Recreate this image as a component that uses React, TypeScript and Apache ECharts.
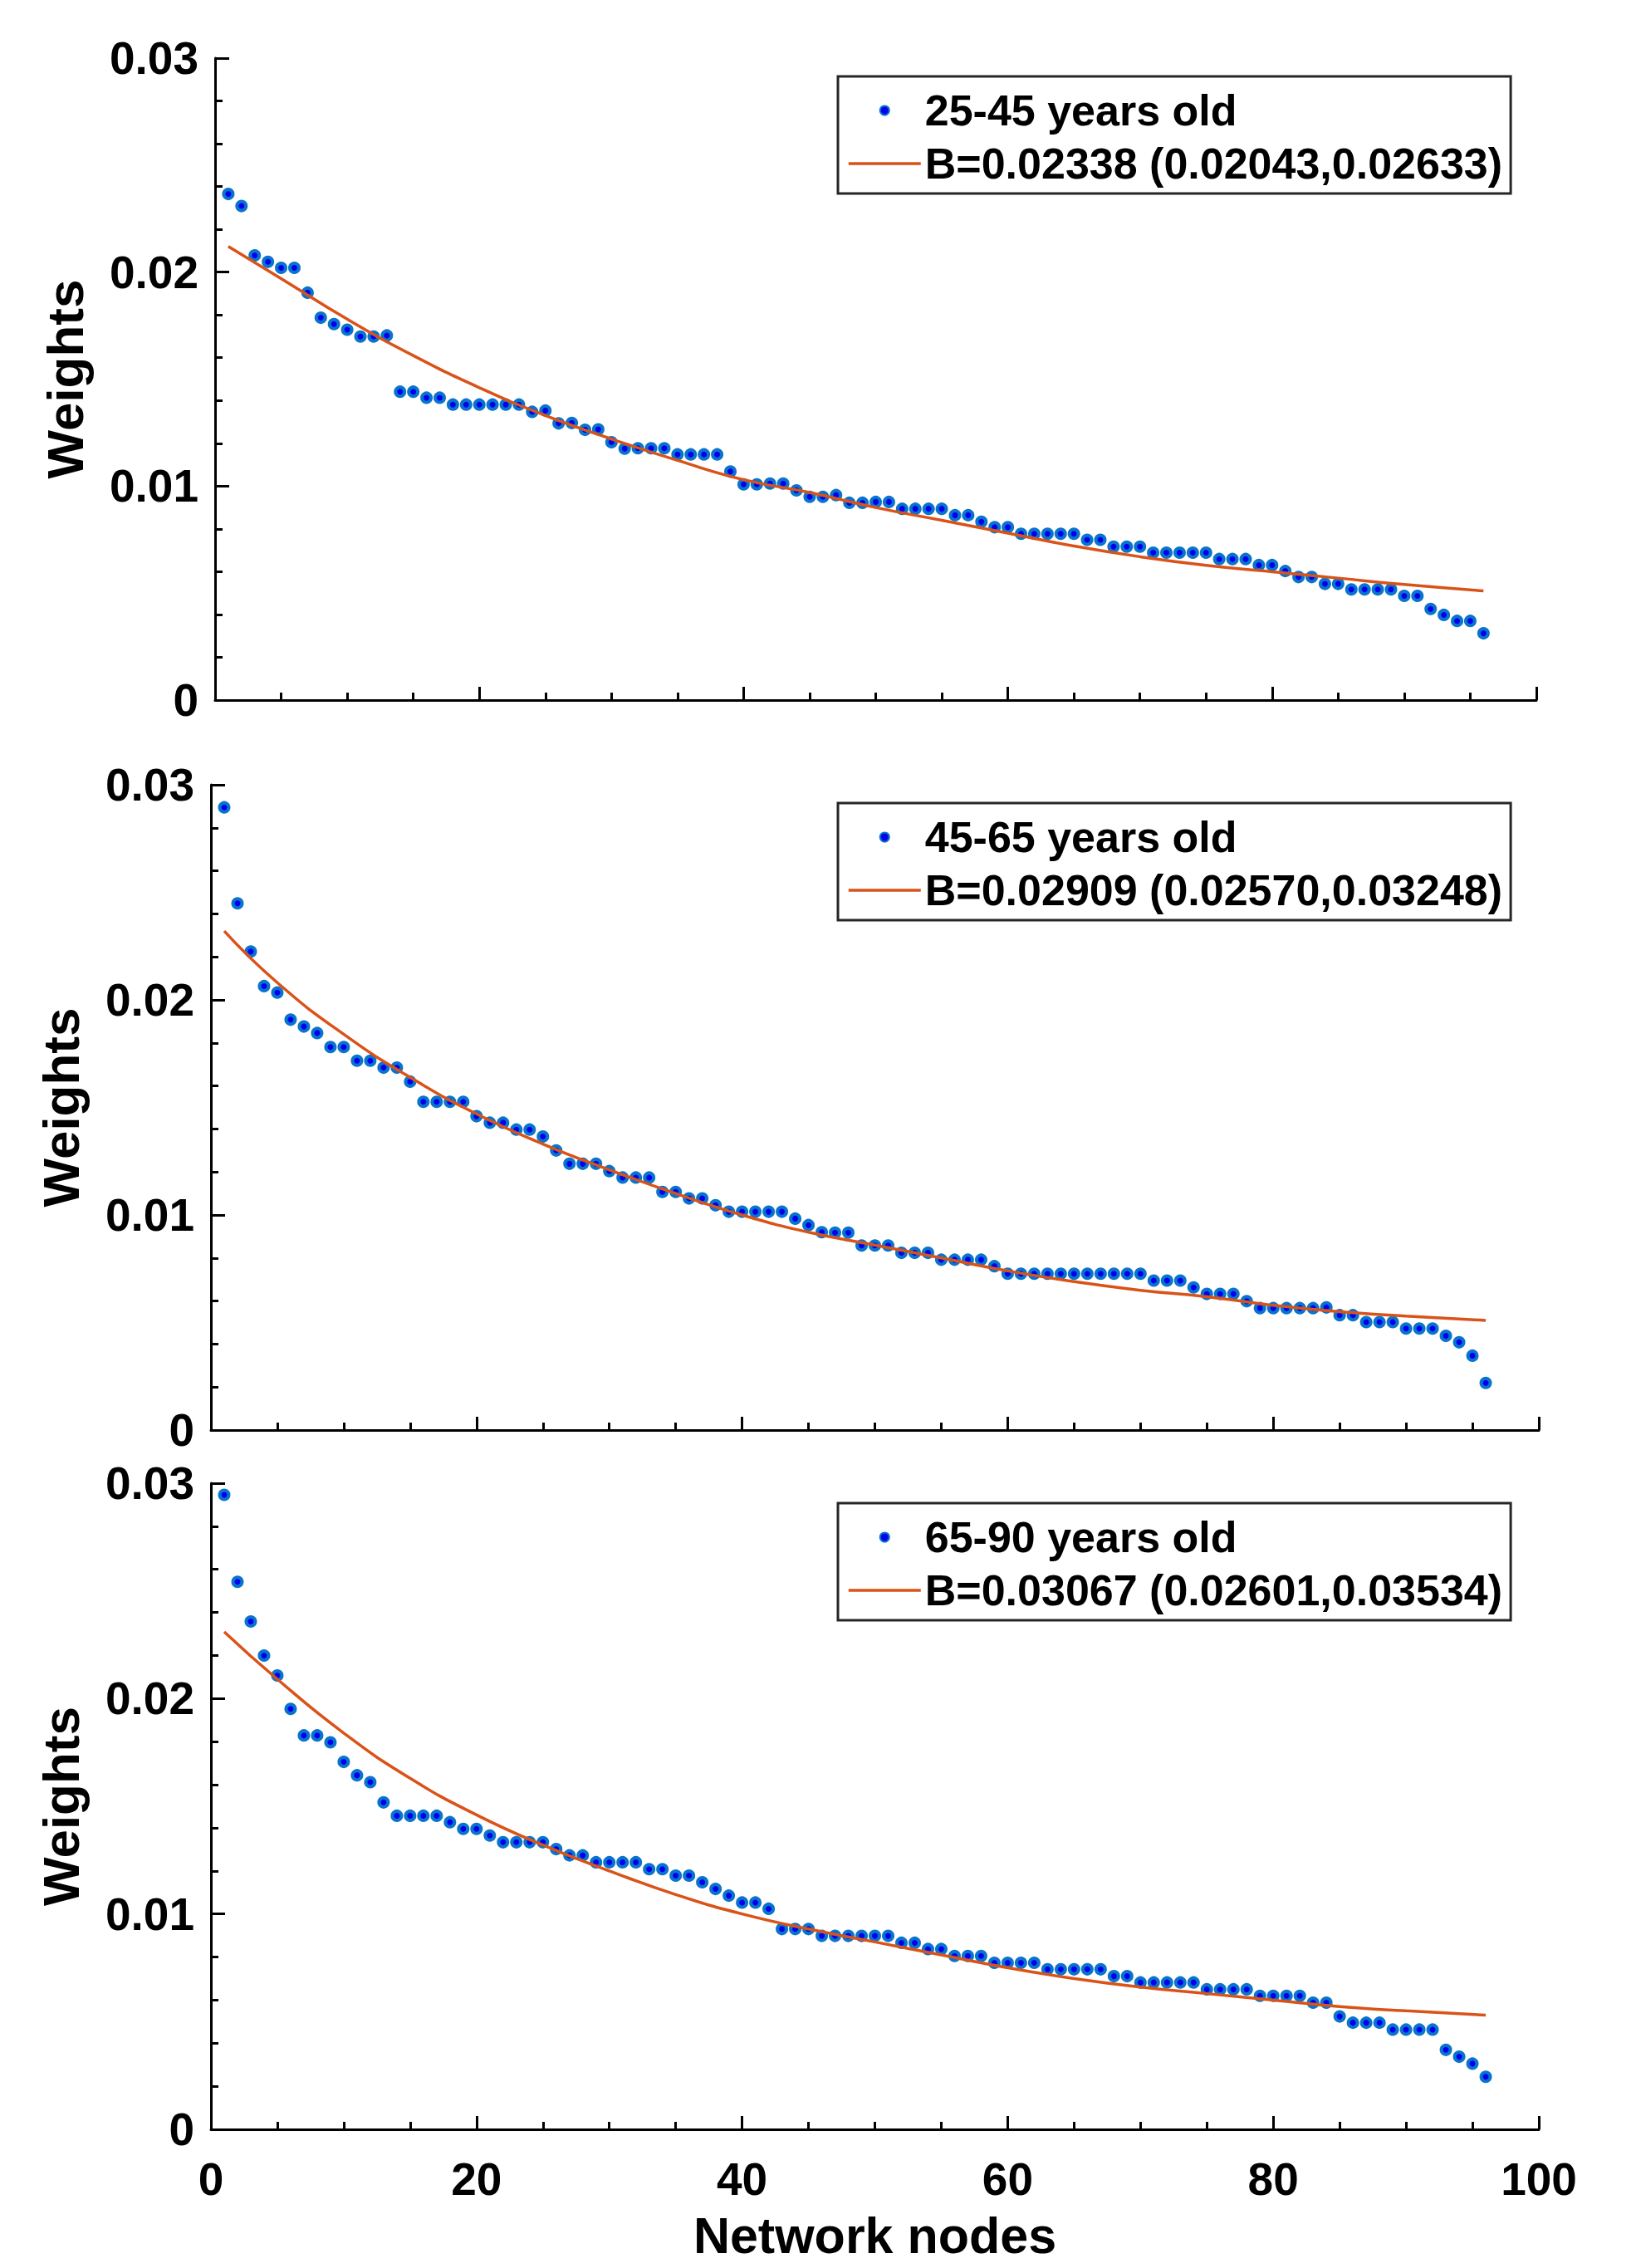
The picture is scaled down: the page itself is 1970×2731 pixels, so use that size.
import React, { useEffect, useRef } from 'react';
import * as echarts from 'echarts';

// Network node index (x categories 1..96)
const nodes: number[] = Array.from({ length: 96 }, (_, i) => i + 1);

const groupNames = ['25-45 years old', '45-65 years old', '65-90 years old'];
const fitNames = [
  'B=0.02338 (0.02043,0.02633)',
  'B=0.02909 (0.02570,0.03248)',
  'B=0.03067 (0.02601,0.03534)',
];

const weights25_45 = [
  0.02365, 0.02309, 0.02078, 0.02048, 0.0202, 0.0202, 0.01904, 0.01787, 0.01757, 0.01731,
  0.01699, 0.01699, 0.01704, 0.01441, 0.01441, 0.01413, 0.01413, 0.01381, 0.01381, 0.01381,
  0.01381, 0.01381, 0.01381, 0.01347, 0.01353, 0.01293, 0.01295, 0.01263, 0.01265, 0.01205,
  0.01175, 0.01177, 0.01177, 0.01177, 0.01148, 0.01148, 0.01148, 0.01148, 0.01068, 0.01008,
  0.01008, 0.01012, 0.01012, 0.0098, 0.0095, 0.0095, 0.00958, 0.00922, 0.00922, 0.00926,
  0.00926, 0.00894, 0.00894, 0.00894, 0.00894, 0.00864, 0.00864, 0.00833, 0.00808, 0.00808,
  0.00777, 0.00777, 0.00777, 0.00777, 0.00777, 0.00749, 0.00749, 0.00717, 0.00717, 0.00717,
  0.00689, 0.00689, 0.00689, 0.00689, 0.00689, 0.00659, 0.00659, 0.00659, 0.00631, 0.00631,
  0.00603, 0.00575, 0.00575, 0.00543, 0.00543, 0.00517, 0.00517, 0.00517, 0.00517, 0.00487,
  0.00487, 0.00426, 0.00398, 0.0037, 0.0037, 0.00312,
];

const weights45_65 = [
  0.02895, 0.02449, 0.02225, 0.02064, 0.02034, 0.01908, 0.01876, 0.01846, 0.01781, 0.01781,
  0.01717, 0.01717, 0.01685, 0.01685, 0.0162, 0.01526, 0.01526, 0.01526, 0.01526, 0.01459,
  0.01429, 0.01429, 0.01397, 0.01397, 0.01365, 0.013, 0.01238, 0.01238, 0.01238, 0.01204,
  0.01174, 0.01174, 0.01174, 0.01107, 0.01107, 0.01077, 0.01077, 0.01045, 0.01015, 0.01015,
  0.01015, 0.01015, 0.01015, 0.00983, 0.00953, 0.0092, 0.00918, 0.00918, 0.00858, 0.00858,
  0.00858, 0.00824, 0.00824, 0.00824, 0.00792, 0.00792, 0.00792, 0.00792, 0.00762, 0.00727,
  0.00727, 0.00727, 0.00727, 0.00727, 0.00727, 0.00727, 0.00727, 0.00727, 0.00727, 0.00727,
  0.00695, 0.00695, 0.00695, 0.00663, 0.00633, 0.00633, 0.00633, 0.00599, 0.00567, 0.00567,
  0.00567, 0.00567, 0.00567, 0.0057, 0.00534, 0.00534, 0.00502, 0.00502, 0.00502, 0.00472,
  0.00472, 0.00472, 0.00438, 0.00408, 0.00346, 0.00219,
];

const weights65_90 = [
  0.02946, 0.02542, 0.02358, 0.022, 0.02107, 0.01952, 0.01829, 0.01829, 0.01797, 0.01706,
  0.01644, 0.01612, 0.01518, 0.01456, 0.01456, 0.01456, 0.01456, 0.01426, 0.01395, 0.01395,
  0.01364, 0.01333, 0.01333, 0.01333, 0.01333, 0.01301, 0.01272, 0.01272, 0.0124, 0.0124,
  0.0124, 0.0124, 0.01208, 0.01208, 0.01178, 0.01178, 0.01147, 0.01116, 0.01085, 0.01053,
  0.01053, 0.01024, 0.0093, 0.0093, 0.0093, 0.00898, 0.00898, 0.00898, 0.00898, 0.00898,
  0.00898, 0.00866, 0.00866, 0.00837, 0.00837, 0.00805, 0.00805, 0.00805, 0.00773, 0.00773,
  0.00773, 0.00773, 0.00743, 0.00743, 0.00743, 0.00743, 0.00743, 0.00711, 0.00711, 0.00682,
  0.00682, 0.00682, 0.00682, 0.00682, 0.0065, 0.0065, 0.0065, 0.0065, 0.0062, 0.0062,
  0.0062, 0.0062, 0.00588, 0.00588, 0.00524, 0.00495, 0.00495, 0.00495, 0.00463, 0.00463,
  0.00463, 0.00463, 0.00369, 0.00337, 0.00305, 0.00244,
];

// Fitted curves at these node positions
const fitNodes = [1, 5, 10, 15, 20, 25, 30, 35, 40, 45, 50, 55, 60, 65, 70, 75, 80, 85, 90, 96];
const fit25_45 = [
  0.0212, 0.0197, 0.0178, 0.0161, 0.0146, 0.0133, 0.0122, 0.0112, 0.0103, 0.0097,
  0.009, 0.0084, 0.0078, 0.0072, 0.0067, 0.0063, 0.006, 0.0057, 0.0054, 0.0051,
];
const fit45_65 = [
  0.0232, 0.0208, 0.0184, 0.0164, 0.0147, 0.0133, 0.0121, 0.011, 0.01, 0.0092,
  0.0086, 0.008, 0.0074, 0.0069, 0.0065, 0.0062, 0.0058, 0.0055, 0.0053, 0.0051,
];
const fit65_90 = [
  0.0231, 0.0209, 0.0184, 0.0163, 0.0146, 0.0132, 0.012, 0.0109, 0.01, 0.0093,
  0.0087, 0.0081, 0.0075, 0.007, 0.0066, 0.0063, 0.006, 0.0057, 0.0055, 0.0053,
];

const weightSets = [weights25_45, weights45_65, weights65_90];
const fitSets = [fit25_45, fit45_65, fit65_90];

const FONT = '"Liberation Sans", Arial, Helvetica, sans-serif';

const grids = [
  { left: 259, top: 70, width: 1591, height: 773 },
  { left: 254, top: 945, width: 1599, height: 777 },
  { left: 254, top: 1786, width: 1599, height: 778 },
];
const legendTops = [92, 967, 1810];

export default function App() {
  const ref = useRef<HTMLDivElement>(null);

  useEffect(() => {
    document.body.style.margin = '0';
    if (!ref.current) return;
    const chart = echarts.init(ref.current, null, { renderer: 'svg', width: 1970, height: 2731 });

    const xAxes = grids.map((_, k) => ({
      type: 'value',
      gridIndex: k,
      min: 0,
      max: 100,
      interval: 20,
      name: k === 2 ? 'Network nodes' : '',
      nameLocation: 'middle',
      nameGap: 100,
      nameTextStyle: {
        fontSize: 61,
        lineHeight: 56,
        fontWeight: 'bold',
        color: '#000',
        fontFamily: FONT,
      },
      axisLine: { show: true, onZero: false, lineStyle: { color: '#000', width: 3 } },
      axisTick: { show: true, inside: true, length: 16, lineStyle: { color: '#000', width: 3 } },
      minorTick: { show: true, splitNumber: 4, length: 9, lineStyle: { color: '#000', width: 3 } },
      axisLabel: {
        show: k === 2,
        margin: 32,
        fontSize: 55,
        fontWeight: 'bold',
        color: '#000',
        fontFamily: FONT,
      },
      splitLine: { show: false },
      minorSplitLine: { show: false },
    }));

    const yAxes = grids.map((_, k) => ({
      type: 'value',
      gridIndex: k,
      min: 0,
      max: 0.03,
      interval: 0.01,
      name: 'Weights',
      nameLocation: 'middle',
      nameGap: 150,
      nameTextStyle: { fontSize: 62, fontWeight: 'bold', color: '#000', fontFamily: FONT },
      axisLine: { show: true, onZero: false, lineStyle: { color: '#000', width: 3 } },
      axisTick: { show: true, inside: true, length: 17, lineStyle: { color: '#000', width: 3 } },
      minorTick: { show: true, splitNumber: 5, length: 9, lineStyle: { color: '#000', width: 3 } },
      axisLabel: {
        margin: 20,
        fontSize: 55,
        fontWeight: 'bold',
        color: '#000',
        fontFamily: FONT,
        formatter: (v: number) => (v === 0 ? '0' : v.toFixed(2)),
      },
      splitLine: { show: false },
      minorSplitLine: { show: false },
    }));

    const series: any[] = [];
    weightSets.forEach((w, k) => {
      series.push({
        name: groupNames[k],
        type: 'scatter',
        xAxisIndex: k,
        yAxisIndex: k,
        data: nodes.map((n, i) => [n, w[i]]),
        symbol: 'circle',
        symbolSize: 11,
        itemStyle: { color: '#0000f0', borderColor: '#0a74cc', borderWidth: 4, opacity: 1 },
        z: 2,
      });
      series.push({
        name: fitNames[k],
        type: 'line',
        xAxisIndex: k,
        yAxisIndex: k,
        data: fitNodes.map((n, i) => [n, fitSets[k][i]]),
        smooth: true,
        symbol: 'none',
        showSymbol: false,
        lineStyle: { color: '#D95319', width: 3.5 },
        itemStyle: { color: '#D95319' },
        z: 3,
      });
    });

    const legends = legendTops.map((top, k) => ({
      left: 1009,
      top,
      orient: 'vertical',
      align: 'left',
      itemWidth: 87,
      itemHeight: 11,
      itemGap: 12,
      padding: [15, 10, 10, 11],
      borderColor: '#262626',
      borderWidth: 3,
      backgroundColor: '#ffffff',
      selectedMode: false,
      textStyle: { fontSize: 52, fontWeight: 'bold', color: '#000', fontFamily: FONT },
      data: [
        { name: groupNames[k] },
        {
          name: fitNames[k],
          itemStyle: { color: 'rgba(0,0,0,0)', borderColor: 'rgba(0,0,0,0)', borderWidth: 0, opacity: 0 },
          lineStyle: { color: '#D95319', width: 3.5, opacity: 1 },
        },
      ],
    }));

    chart.setOption({
      animation: false,
      backgroundColor: '#ffffff',
      grid: grids,
      xAxis: xAxes,
      yAxis: yAxes,
      legend: legends,
      series,
    });

    return () => {
      chart.dispose();
    };
  }, []);

  return <div ref={ref} style={{ width: 1970, height: 2731, display: 'block' }} />;
}
